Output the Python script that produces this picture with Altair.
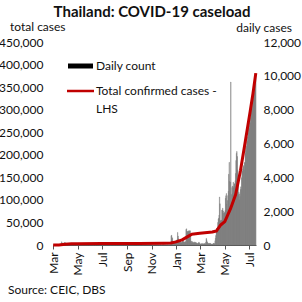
import altair as alt
import pandas as pd

# ---------------- data ----------------
# daily new cases, one list per month (Mar 2020 .. 17 Jul 2021)
d_2020_03 = [0,1,1,0,4,1,2,0,0,3,11,2,5,7,32,33,30,35,60,50,89,188,122,106,107,111,91,109,143,136,127]
d_2020_04 = [120,104,103,89,102,51,38,111,54,50,45,33,28,34,30,29,28,33,32,27,19,15,13,15,53,15,9,7,9,7]
d_2020_05 = [6,3,18,1,3,1,3,2,3,4,5,1,1,0,4,1,3,0,0,1,3,3,1,0,2,1,8,3,11,0,0]
d_2020_06 = [1,2,1,7,3,2,0,2,0,1,3,0,4,1,0,1,2,2,4,0,1,2,1,1,3,0,3,0,2,4]
d_2020_07 = [1,0,1,3,0,0,7,1,8,3,0,0,0,2,3,1,2,4,5,3,0,5,0,3,0,1,0,1,2,4,2]
d_2020_08 = [1,2,0,0,7,0,1,1,2,2,1,3,0,5,5,1,1,2,6,0,1,4,1,3,1,2,2,6,0,2,1]
d_2020_09 = [2,5,0,3,2,1,4,6,2,6,5,5,4,8,0,1,4,3,6,3,0,8,5,2,5,6,0,5,5,5]
d_2020_10 = [5,5,6,4,14,10,5,2,8,10,9,7,6,5,5,2,13,5,4,6,2,7,2,6,6,10,6,14,10,5,7]
d_2020_11 = [12,6,6,5,7,4,3,6,10,4,12,4,7,6,9,12,5,3,4,6,6,13,10,5,1,6,10,9,20,14]
d_2020_12 = [10,6,14,15,8,5,7,16,13,10,11,9,8,11,14,15,12,27,548,576,382,427,46,38,121,110,121,144,139,250,194]
d_2021_01 = [279,216,315,745,527,365,305,250,212,249,162,157,144,123,188,203,374,228,171,151,189,139,198,187,914,959,819,802,756,802,834]
d_2021_02 = [835,806,843,838,530,228,217,97,138,202,143,126,131,183,124,149,112,167,130,91,89,70,83,128,94,172,95,95]
d_2021_03 = [62,54,24,84,58,95,57,35,75,64,89,63,78,54,156,394,312,195,148,102,90,64,88,101,59,72,97,42,45,56,26]
d_2021_04 = [26,84,96,84,84,54,250,405,559,789,967,985,965,1335,1543,1582,1767,2839,2438,1390,1443,1458,1470,2070,2048,2179,2012,1871,1583,1891]
d_2021_05 = [1940,2041,2763,2911,3044,2419,2101,2630,2919,3183,4183,4887,3759,2256,3718,9635,2176,2988,3394,3481,3052,3713,3382,3455,3626,3611,3803,4230,4994,5416,5533]
d_2021_06 = [5230,4440,3817,2965,3119,2671,3019,2862,3280,3440,3277,3977,4383,4331,4504,4629,4693,4429,4867,4882,5406,5775,5574,5844,6119,6161,6395,6606,6878,7058]
d_2021_07 = [6887,7230,7533,7230,7916,7951,8219,8058,8576,8926,8656,8885,8985,9317,9186,9692,10082]

daily_months = [
    ("2020-03-01", d_2020_03), ("2020-04-01", d_2020_04), ("2020-05-01", d_2020_05),
    ("2020-06-01", d_2020_06), ("2020-07-01", d_2020_07), ("2020-08-01", d_2020_08),
    ("2020-09-01", d_2020_09), ("2020-10-01", d_2020_10), ("2020-11-01", d_2020_11),
    ("2020-12-01", d_2020_12), ("2021-01-01", d_2021_01), ("2021-02-01", d_2021_02),
    ("2021-03-01", d_2021_03), ("2021-04-01", d_2021_04), ("2021-05-01", d_2021_05),
    ("2021-06-01", d_2021_06), ("2021-07-01", d_2021_07),
]

# total confirmed cases (LHS)
total_dates = ["2020-03-01","2020-03-15","2020-03-31","2020-04-15","2020-04-30","2020-06-30",
               "2020-09-30","2020-11-30","2020-12-18","2020-12-31","2021-01-15","2021-01-31",
               "2021-02-08","2021-02-28","2021-03-31","2021-04-10","2021-04-20","2021-05-01",
               "2021-05-15","2021-05-28","2021-06-09","2021-06-21","2021-07-03","2021-07-10",
               "2021-07-17"]
total_values = [42,114,1651,2643,2954,3171,3564,3998,4297,6884,11450,19618,
                24000,25951,28863,31000,43742,52000,80000,112000,165000,230000,296000,336000,381000]

left_ticks = [0,50000,100000,150000,200000,250000,300000,350000,400000,450000]
right_ticks = [0,2000,4000,6000,8000,10000,12000]
x_tick_months = [(2020,3),(2020,5),(2020,7),(2020,9),(2020,11),(2021,1),(2021,3),(2021,5),(2021,7)]

# ---------------- frames ----------------
rows = []
for start, vals in daily_months:
    ds = pd.date_range(start, periods=len(vals), freq="D")
    for d, v in zip(ds, vals):
        rows.append({"start": d, "end": d + pd.Timedelta(days=1), "daily": v})
daily_df = pd.DataFrame(rows)
daily_df["start"] = daily_df["start"].dt.strftime("%Y-%m-%dT%H:%M:%S")
daily_df["end"] = daily_df["end"].dt.strftime("%Y-%m-%dT%H:%M:%S")

total_df = pd.DataFrame({"date": [d + "T12:00:00" for d in total_dates], "total": total_values})

FONT = "Lato"
RED = "#c00000"
GREY = "#7f7f7f"

xdomain = [alt.DateTime(year=2020, month=3, date=1), alt.DateTime(year=2021, month=7, date=18)]
xvals = [alt.DateTime(year=y, month=m, date=1) for y, m in x_tick_months]

xaxis = alt.Axis(values=xvals, format="%b", labelAngle=-90, title=None, labelFontSize=12,
                 labelFont=FONT, labelColor="#111", tickSize=4, tickColor="#555",
                 domainColor="#555", grid=False, labelPadding=3, labelOverlap=False,
                 labelBound=False, labelFlush=False)

bars = alt.Chart(daily_df).mark_rect(color=GREY, stroke=GREY, strokeWidth=0.4).encode(
    x=alt.X("start:T", scale=alt.Scale(domain=xdomain), axis=xaxis),
    x2="end:T",
    y=alt.Y("daily:Q", scale=alt.Scale(domain=[0, 12000], nice=False),
            axis=alt.Axis(orient="right", values=right_ticks, format=",.0f", title=None,
                          labelFontSize=12, labelFont=FONT, labelColor="#111",
                          domain=False, ticks=False, grid=False, labelPadding=7)),
    y2=alt.datum(0),
)

line = alt.Chart(total_df).mark_line(color=RED, strokeWidth=3, strokeJoin="round").encode(
    x=alt.X("date:T", scale=alt.Scale(domain=xdomain), axis=xaxis),
    y=alt.Y("total:Q", scale=alt.Scale(domain=[0, 450000], nice=False),
            axis=alt.Axis(orient="left", values=left_ticks, format=",.0f", title=None,
                          labelFontSize=12, labelFont=FONT, labelColor="#111",
                          domain=False, ticks=False, grid=False, labelPadding=10)),
)

def label(txt, x, y, size=12, weight="normal", align="left"):
    return alt.Chart(pd.DataFrame({"t": [txt]})).mark_text(
        font=FONT, fontSize=size, fontWeight=weight, align=align, baseline="middle", color="#111"
    ).encode(text="t:N", x=alt.value(x), y=alt.value(y))

legend_box = alt.Chart(pd.DataFrame({"a": [0]})).mark_rect(color="#000").encode(
    x=alt.value(15), x2=alt.value(40), y=alt.value(21.5), y2=alt.value(26.5))
legend_line = alt.Chart(pd.DataFrame({"a": [0]})).mark_rule(color=RED, strokeWidth=2.5).encode(
    x=alt.value(14), x2=alt.value(41), y=alt.value(49))

chart = alt.layer(
    bars, line,
    legend_box, legend_line,
    label("Daily count", 43, 24),
    label("Total confirmed cases -", 43, 49),
    label("LHS", 43, 67),
    label("Thailand: COVID-19 caseload", 99, -30, size=15, weight="bold", align="center"),
    label("total cases", -43, -15),
    label("daily cases", 239, -14, align="right"),
    label("Source: CEIC, DBS", -45, 248),
).resolve_scale(y="independent").properties(
    width=203, height=203,
    padding={"left": 53, "top": 42, "right": 46, "bottom": 57},
    autosize=alt.AutoSizeParams(type="none"),
    background="white",
).configure_view(stroke=None)

chart.save("out.html", embed_options={"renderer": "svg", "actions": False})
